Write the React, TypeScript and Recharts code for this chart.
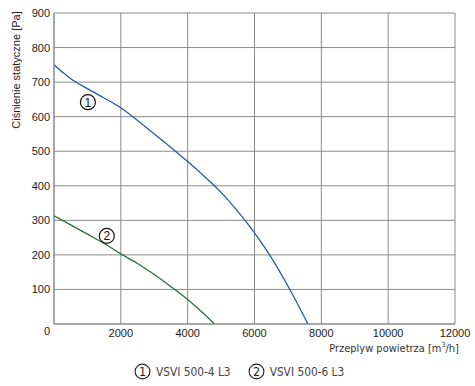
import React from 'react';
import { LineChart, Line, XAxis, YAxis, CartesianGrid, ReferenceDot } from 'recharts';

const xTicks = [0, 2000, 4000, 6000, 8000, 10000, 12000];
const yTicks = [0, 100, 200, 300, 400, 500, 600, 700, 800, 900];

// VSVI 500-4 L3
const flow1 = [0, 250, 500, 1000, 1500, 2000, 2500, 3000, 3500, 4000, 4500, 5000, 5500, 6000, 6500, 7000, 7600];
const press1 = [750, 729, 710, 681, 654, 626, 589, 550, 511, 470, 427, 381, 326, 264, 193, 110, 0];

// VSVI 500-6 L3
const flow2 = [0, 500, 1000, 1500, 2000, 2500, 3000, 3500, 4000, 4500, 4800];
const press2 = [313, 287, 260, 233, 203, 175, 143, 108, 71, 28, 0];

const curve1 = flow1.map((q, i) => ({ q, p: press1[i] }));
const curve2 = flow2.map((q, i) => ({ q, p: press2[i] }));

const BLUE = '#2b5b9c';
const GREEN = '#2f6b3c';
const GRID = '#8a8a8a';
const tickFont = '"Liberation Sans", Arial, sans-serif';
const labelFont = '"DejaVu Sans Condensed", "DejaVu Sans", sans-serif';

const XTick = (props: any) => {
  const { x, y, payload } = props;
  if (payload.value === 0) return null;
  return (
    <text x={x} y={y + 11} textAnchor="middle" fontSize={11} fontFamily={tickFont} fill="#222">
      {payload.value}
    </text>
  );
};

const YTick = (props: any) => {
  const { y, payload } = props;
  const dy = payload.value === 0 ? 7 : 0;
  return (
    <text x={50} y={y + dy + 4} textAnchor="end" fontSize={11} fontFamily={tickFont} fill="#222">
      {payload.value}
    </text>
  );
};

const Circled = (n: string) => (props: any) => {
  const { cx, cy } = props;
  return (
    <g>
      <circle cx={cx} cy={cy} r={7.5} fill="none" stroke="#111" strokeWidth={1.2} />
      <text x={cx} y={cy + 4.5} textAnchor="middle" fontSize={12} fontFamily={tickFont} fill="#111">
        {n}
      </text>
    </g>
  );
};

const LegendMark = ({ n, label, gap }: { n: string; label: string; gap: number }) => (
  <span style={{ display: 'inline-flex', alignItems: 'center', marginRight: gap }}>
    <svg width={17} height={17}>
      <circle cx={8.5} cy={8.5} r={7.4} fill="none" stroke="#222" strokeWidth={1.1} />
      <text x={8.5} y={13} textAnchor="middle" fontSize={12.5} fontFamily={labelFont} fill="#222">{n}</text>
    </svg>
    <span style={{ marginLeft: 5 }}>{label}</span>
  </span>
);

export default function App() {
  return (
    <div style={{ position: 'absolute', left: 0, top: 0, width: 475, height: 386, background: '#fff' }}>
      <LineChart width={475} height={386} margin={{ top: 13, right: 20, left: 0, bottom: 0 }}>
        <CartesianGrid stroke={GRID} strokeWidth={1} />
        <XAxis
          type="number"
          dataKey="q"
          domain={[0, 12000]}
          ticks={xTicks}
          height={62}
          tickLine={false}
          axisLine={{ stroke: GRID }}
          tick={<XTick />}
          tickSize={0}
          allowDataOverflow
        />
        <YAxis
          type="number"
          dataKey="p"
          domain={[0, 900]}
          ticks={yTicks}
          width={54}
          tickLine={false}
          axisLine={{ stroke: GRID }}
          tick={<YTick />}
          tickSize={0}
        />
        <Line data={curve1} dataKey="p" type="monotone" stroke={BLUE} strokeWidth={1.3} dot={false} isAnimationActive={false} />
        <Line data={curve2} dataKey="p" type="monotone" stroke={GREEN} strokeWidth={1.3} dot={false} isAnimationActive={false} />
        <ReferenceDot x={1015} y={642} shape={Circled('1')} />
        <ReferenceDot x={1580} y={255} shape={Circled('2')} />
      </LineChart>
      <div
        style={{
          position: 'absolute', left: 10, top: 70, transform: 'translate(-50%, -50%) rotate(-90deg)',
          transformOrigin: 'center', whiteSpace: 'nowrap', fontSize: 11, fontFamily: tickFont, color: '#222',
          marginLeft: 6,
        }}
      >
        Ciśnienie statyczne [Pa]
      </div>
      <div
        style={{
          position: 'absolute', right: 16, top: 341, whiteSpace: 'nowrap', fontSize: 11,
          fontFamily: labelFont, color: '#333',
        }}
      >
        Przeplyw powietrza [m<sup style={{ fontSize: 7 }}>3</sup>/h]
      </div>
      <div
        style={{
          position: 'absolute', left: 134, top: 363, whiteSpace: 'nowrap', fontSize: 11.8,
          fontFamily: labelFont, color: '#444', display: 'flex',
        }}
      >
        <LegendMark n="1" label="VSVI 500-4 L3" gap={17} />
        <LegendMark n="2" label="VSVI 500-6 L3" gap={0} />
      </div>
    </div>
  );
}
